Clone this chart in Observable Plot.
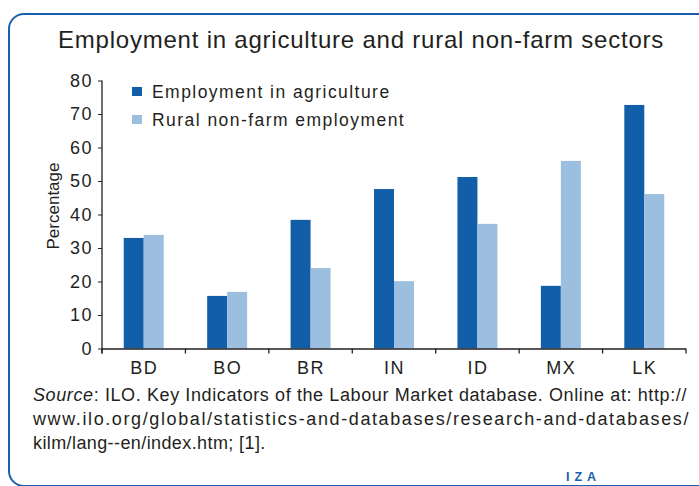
<!DOCTYPE html>
<html>
<head>
<meta charset="utf-8">
<script src="https://cdn.jsdelivr.net/npm/d3@7"></script>
<script src="https://cdn.jsdelivr.net/npm/@observablehq/plot@0.6"></script>
<style>
  html, body { margin: 0; padding: 0; background: #fff; }
  #wrap { position: relative; width: 699px; height: 486px; overflow: hidden; font-family: "Liberation Sans", Arial, sans-serif; color: #231f20; }
  #frame { position: absolute; left: 8px; top: 13px; width: 740px; height: 474px; border: 2px solid #1a60ac; border-radius: 16px; box-sizing: border-box; }
  #title { position: absolute; left: 58px; top: 28px; font-size: 24px; line-height: 24px; white-space: nowrap; letter-spacing: 0.78px; }
  #chart { position: absolute; left: 0; top: 0; }
  #ylabel { position: absolute; left: 53px; top: 206px; font-size: 17px; line-height: 17px; transform: translate(-50%, -50%) rotate(-90deg); white-space: nowrap; }
  .leg { position: absolute; left: 132px; font-size: 17.5px; line-height: 18px; white-space: nowrap; letter-spacing: 1.45px; }
  .leg span.sw { position: absolute; left: 0; top: 4px; width: 9.5px; height: 9px; }
  .leg span.tx { position: absolute; left: 20px; top: 0; }
  #caption { position: absolute; left: 33px; top: 383px; font-size: 18px; line-height: 24px; }
  #caption div { white-space: nowrap; letter-spacing: 0.4px; }
  #iza { position: absolute; left: 566px; top: 470px; font-size: 12.5px; font-weight: bold; color: #1a60ac; letter-spacing: 5px; }
  #chart svg text { letter-spacing: 1.5px; }
</style>
</head>
<body>
<div id="wrap">
  <div id="frame"></div>
  <div id="chart"></div>
  <div id="title"></div>
  <div id="ylabel"></div>
  <div id="legend"></div>
  <div id="caption"></div>
  <div id="iza">IZA</div>
</div>
<script>
const titleText = "Employment in agriculture and rural non-farm sectors";
const yLabel = "Percentage";
const countries = ["BD", "BO", "BR", "IN", "ID", "MX", "LK"];
const seriesNames = ["Employment in agriculture", "Rural non-farm employment"];
const agriculture = [33.0, 15.7, 38.4, 47.6, 51.2, 18.7, 72.7];
const ruralNonFarm = [33.9, 16.9, 24.0, 20.1, 37.2, 56.0, 46.1];
const yTicks = [0, 10, 20, 30, 40, 50, 60, 70, 80];
const seriesColors = ["#135ea9", "#9cbfdf"];
const captionLines = [
  ["Source", ": ILO. Key Indicators of the Labour Market database. Online at: http://"],
  ["", "www.ilo.org/global/statistics-and-databases/research-and-databases/"],
  ["", "kilm/lang--en/index.htm; [1]."]
];

const data = [];
countries.forEach((c, i) => {
  data.push({country: c, series: seriesNames[0], value: agriculture[i]});
  data.push({country: c, series: seriesNames[1], value: ruralNonFarm[i]});
});

const ink = "#231f20";
const chart = Plot.plot({
  width: 699,
  height: 380,
  marginTop: 80.5,
  marginBottom: 31.5,
  marginLeft: 102,
  marginRight: 13,
  style: {fontFamily: "Liberation Sans, Arial, sans-serif", fontSize: "18px", color: ink, background: "transparent", overflow: "visible"},
  fx: {domain: countries, padding: 0, label: null, round: false},
  x: {domain: seriesNames, paddingInner: 0, paddingOuter: 1.0875, axis: null, round: false},
  y: {domain: [0, 80], label: null},
  color: {domain: seriesNames, range: seriesColors},
  marks: [
    Plot.barY(data, {fx: "country", x: "series", y: "value", fill: "series"}),
    Plot.ruleY([0], {stroke: ink, strokeWidth: 1.3}),
    Plot.axisY({ticks: yTicks, tickSize: 4, tickPadding: 5.5, fontSize: 18, label: null, stroke: ink}),
    Plot.axisFx({anchor: "bottom", tickSize: 0, tickPadding: 12, fontSize: 18, label: null})
  ]
});
document.getElementById("chart").appendChild(chart);

// axis line and boundary ticks via the plot's own scales
const ys = chart.scale("y");
const fxs = chart.scale("fx");
const svg = d3.select(chart);
const y0 = ys.apply(0), yTop = ys.apply(80);
const bounds = countries.map(c => fxs.apply(c));
bounds.push(fxs.apply(countries[countries.length - 1]) + fxs.bandwidth);
const g = svg.append("g").attr("stroke", ink).attr("stroke-width", 1.3);
g.append("line").attr("x1", bounds[0]).attr("x2", bounds[0]).attr("y1", yTop).attr("y2", y0 + 5);
bounds.forEach(b => g.append("line").attr("x1", b).attr("x2", b).attr("y1", y0).attr("y2", y0 + 5));

document.getElementById("title").textContent = titleText;
document.getElementById("ylabel").textContent = yLabel;

const legend = document.getElementById("legend");
seriesNames.forEach((s, i) => {
  const d = document.createElement("div");
  d.className = "leg";
  d.style.top = (83 + i * 28) + "px";
  const sw = document.createElement("span"); sw.className = "sw"; sw.style.background = seriesColors[i];
  const tx = document.createElement("span"); tx.className = "tx"; tx.textContent = s;
  d.appendChild(sw); d.appendChild(tx);
  legend.appendChild(d);
});

const cap = document.getElementById("caption");
const capTargets = [654, 657, null];
captionLines.forEach((ln, i) => {
  const d = document.createElement("div");
  if (ln[0]) { const em = document.createElement("i"); em.textContent = ln[0]; d.appendChild(em); }
  d.appendChild(document.createTextNode(ln[1]));
  d.style.display = "inline-block";
  cap.appendChild(d);
  cap.appendChild(document.createElement("br"));
  if (capTargets[i]) {
    d.style.letterSpacing = "0px";
    const w = d.getBoundingClientRect().width;
    const n = (ln[0] + ln[1]).length;
    d.style.letterSpacing = ((capTargets[i] - w) / n) + "px";
  }
});
</script>
</body>
</html>
